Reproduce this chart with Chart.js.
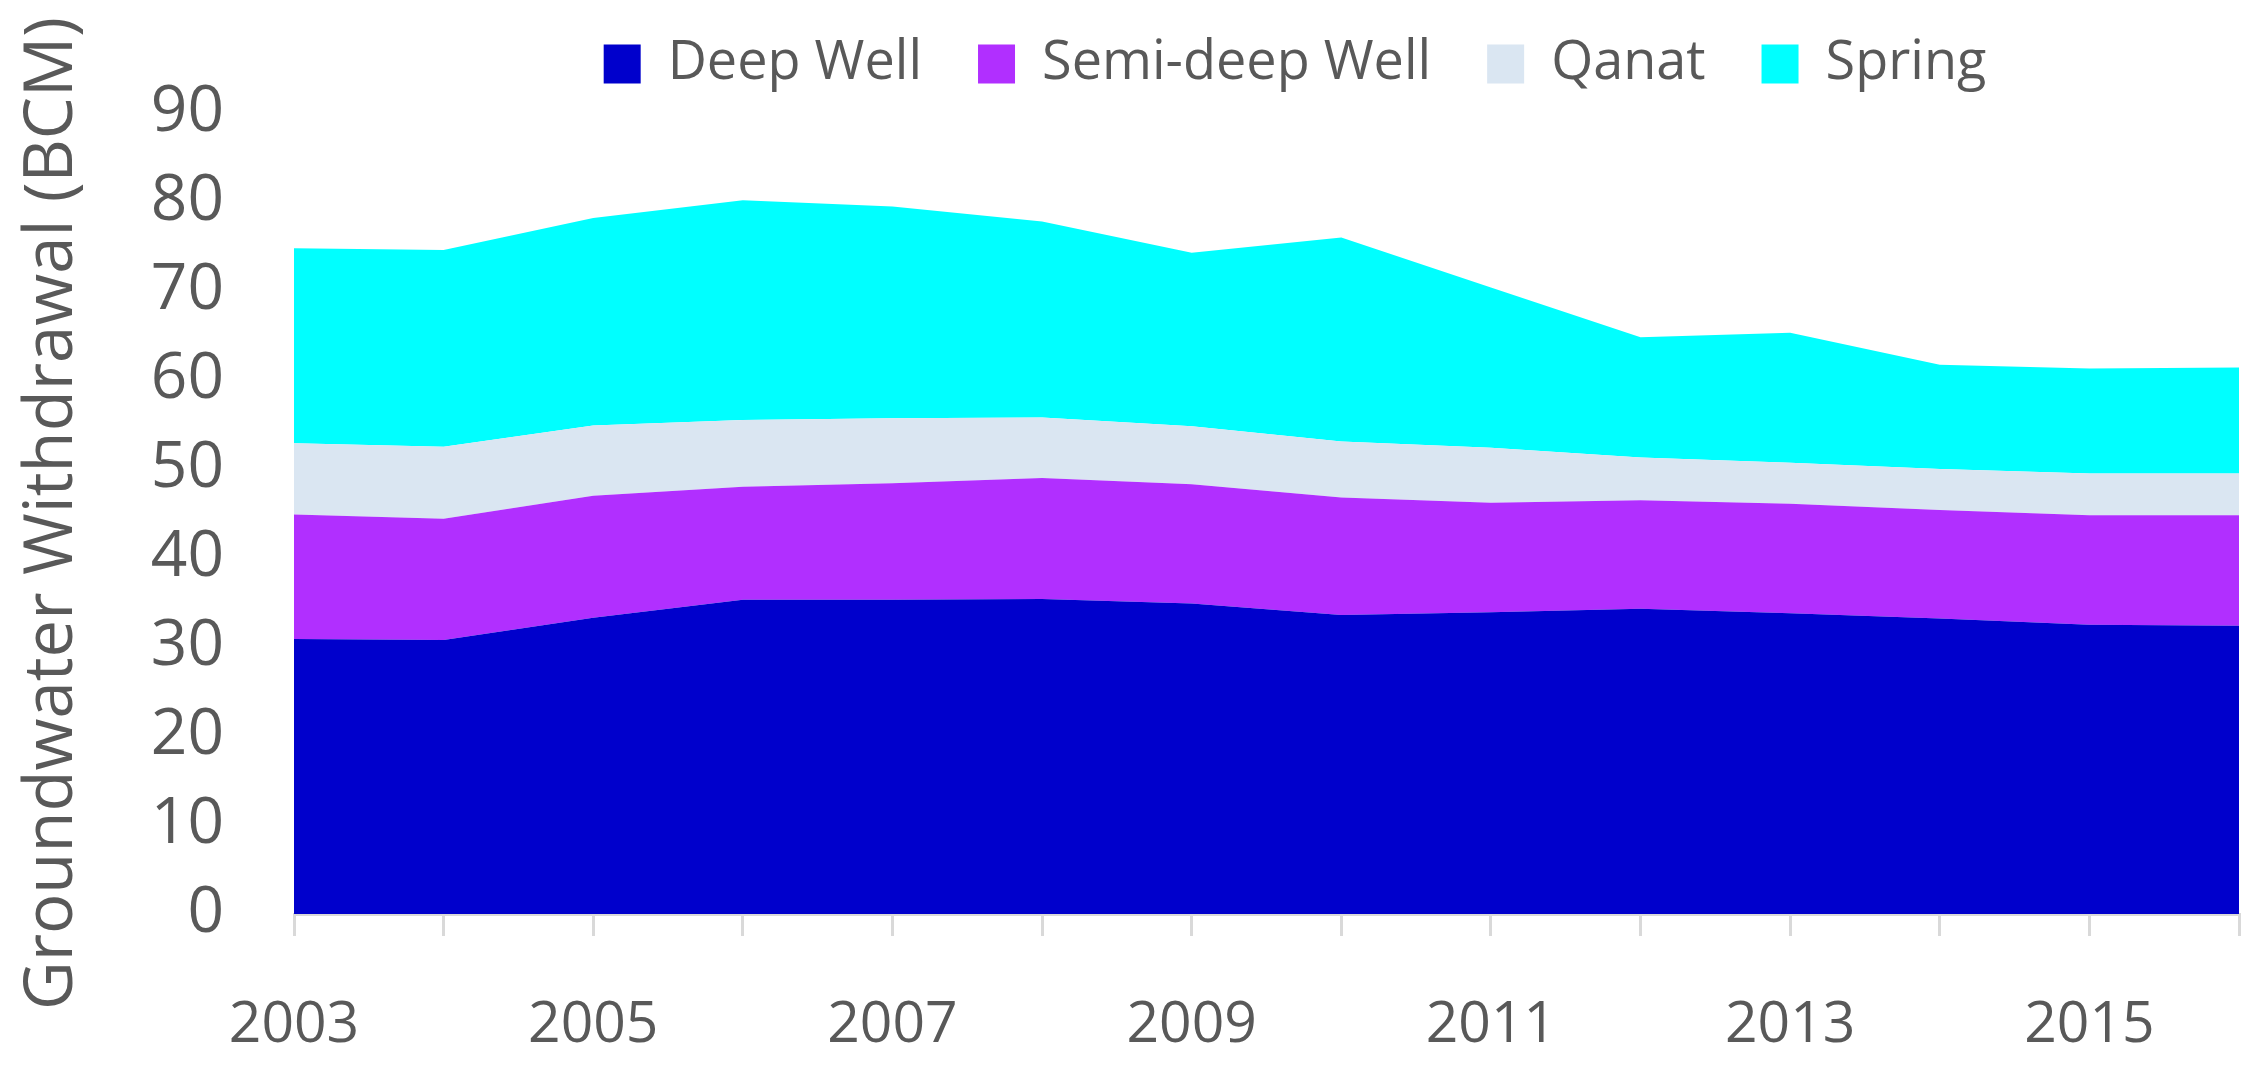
<!DOCTYPE html>
<html>
<head>
<meta charset="utf-8">
<title>Groundwater Withdrawal</title>
<script src="https://cdn.jsdelivr.net/npm/chart.js@4.4.1/dist/chart.umd.min.js"></script>
<style>
  html, body { margin: 0; padding: 0; background: #fff; overflow: hidden; }
  .wrap { position: relative; width: 2259px; height: 1070px; }
</style>
</head>
<body>
<div class="wrap"><canvas id="myChart"></canvas></div>
<script>
// values (BCM per source)
const years = ["2003", "2004", "2005", "2006", "2007", "2008", "2009", "2010", "2011", "2012", "2013", "2014", "2015", "2016"]
const deepWell = [30.9, 30.8, 33.3, 35.3, 35.3, 35.4, 34.9, 33.6, 33.9, 34.3, 33.8, 33.2, 32.5, 32.4]
const semiDeepWell = [14.0, 13.6, 13.7, 12.7, 13.1, 13.6, 13.4, 13.2, 12.3, 12.2, 12.3, 12.2, 12.3, 12.4]
const qanat = [8.0, 8.1, 7.9, 7.5, 7.3, 6.8, 6.5, 6.3, 6.2, 4.8, 4.6, 4.6, 4.7, 4.7]
const spring = [21.9, 22.1, 23.3, 24.7, 23.8, 22.0, 19.5, 22.9, 18.0, 13.5, 14.6, 11.7, 11.8, 11.9]
const yTicks = [0, 10, 20, 30, 40, 50, 60, 70, 80, 90]

const textColor = "#595959"
const fontFamily = "'Open Sans', sans-serif"

function area(label, values, color, fill) {
  return {
    label: label,
    data: values,
    backgroundColor: color,
    borderColor: "rgba(0,0,0,0)",
    borderWidth: 0,
    pointRadius: 0,
    pointHoverRadius: 0,
    tension: 0,
    fill: fill,
  }
}

// the legend sits right of centre in the original, move it there
const legendShift = {
  id: "legendShift",
  afterLayout(chart) {
    const legend = chart.legend
    const dx = 1295 - (legend.left + legend.right) / 2
    legend.left += dx
    legend.right += dx
    legend.top -= 32
  },
}

const ctx = document.getElementById("myChart")
new Chart(ctx, {
  type: "line",
  data: {
    labels: years,
    datasets: [
      area("Deep Well", deepWell, "#0000CC", "origin"),
      area("Semi-deep Well", semiDeepWell, "#B12FFF", "-1"),
      area("Qanat", qanat, "#DAE6F2", "-1"),
      area("Spring", spring, "#00FFFF", "-1"),
    ],
  },
  options: {
    responsive: true,
    maintainAspectRatio: false,
    animation: false,
    layout: {
      padding: { top: 13, left: 13, right: 20, bottom: 10 },
    },
    plugins: {
      legend: {
        position: "top",
        maxHeight: 100,
        labels: {
          boxWidth: 37,
          boxHeight: 39,
          padding: 56,
          color: textColor,
          font: { family: fontFamily, size: 54 },
        },
      },
      tooltip: { enabled: false },
    },
    scales: {
      x: {
        offset: false,
        afterFit(scale) {
          scale.height = 146
          scale.paddingRight = 0
        },
        grid: {
          display: true,
          drawOnChartArea: false,
          drawTicks: true,
          tickLength: 22,
          color: "#D9D9D9",
          lineWidth: 3,
        },
        border: { display: true, color: "#D9D9D9", width: 3 },
        ticks: {
          autoSkip: false,
          maxRotation: 0,
          padding: 56,
          color: textColor,
          font: { family: fontFamily, size: 57 },
          callback: function (value, index) {
            return index % 2 === 0 ? this.getLabelForValue(value) : ""
          },
        },
      },
      y: {
        stacked: true,
        min: yTicks[0],
        max: yTicks[yTicks.length - 1],
        afterFit(scale) {
          scale.width = 281
        },
        grid: { display: false, drawTicks: false },
        border: { display: false },
        ticks: {
          stepSize: yTicks[1] - yTicks[0],
          padding: 70,
          color: textColor,
          font: { family: fontFamily, size: 64 },
        },
        title: {
          display: true,
          text: "Groundwater Withdrawal (BCM)",
          color: textColor,
          padding: 0,
          font: { family: fontFamily, size: 67 },
        },
      },
    },
  },
  plugins: [legendShift],
})
</script>
</body>
</html>
